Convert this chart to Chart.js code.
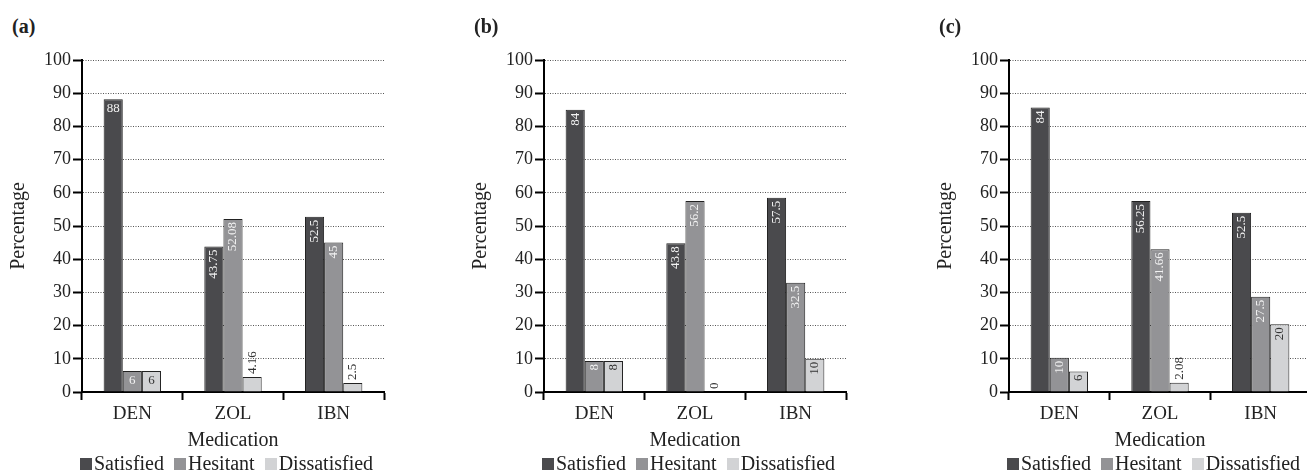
<!DOCTYPE html>
<html>
<head>
<meta charset="utf-8">
<script src="https://cdn.jsdelivr.net/npm/chart.js@4.4.1/dist/chart.umd.min.js"></script>
<style>
    html, body { margin: 0; padding: 0; background: #fff; }
    body { width: 1307px; height: 474px; overflow: hidden; position: relative; font-family: "Liberation Serif", serif; color: #222; }
    .panel { position: absolute; top: 0; width: 463px; height: 474px; }
    .panel canvas { position: absolute; left: 0; top: 0; }
    .tag { position: absolute; left: 12px; top: 14px; font-weight: bold; font-size: 20px; line-height: 24px; }
    .legend { position: absolute; left: 80px; top: 451px; font-size: 20px; line-height: 24px; white-space: nowrap; }
    .legend span.sw { display: inline-block; width: 12px; height: 12px; margin-right: 2px; }
    .legend span.item { margin-right: 10px; }
</style>
</head>
<body>
<div class="panel" id="pa" style="left:0px"><div class="tag">(a)</div><canvas id="chartA" width="463" height="474"></canvas></div>
<div class="panel" id="pb" style="left:462px"><div class="tag">(b)</div><canvas id="chartB" width="463" height="474"></canvas></div>
<div class="panel" id="pc" style="left:927px"><div class="tag">(c)</div><canvas id="chartC" width="463" height="474"></canvas></div>

<script>
// Dane
const categories = ['DEN', 'ZOL', 'IBN'];
const seriesNames = ['Satisfied', 'Hesitant', 'Dissatisfied'];
const seriesColors = ['#4a4a4d', '#939396', '#d2d3d5'];

// panel (a) - wysokości słupków i podpisy
const satisfiedA = [88.2, 43.8, 52.8];
const hesitantA = [6.3, 52.1, 45.0];
const dissatisfiedA = [6.3, 4.5, 2.7];
const satisfiedLabelsA = ['88', '43.75', '52.5'];
const hesitantLabelsA = ['6', '52.08', '45'];
const dissatisfiedLabelsA = ['6', '4.16', '2.5'];

// panel (b)
const satisfiedB = [85.0, 44.8, 58.5];
const hesitantB = [9.3, 57.5, 32.9];
const dissatisfiedB = [9.3, 0, 10.0];
const satisfiedLabelsB = ['84', '43.8', '57.5'];
const hesitantLabelsB = ['8', '56.2', '32.5'];
const dissatisfiedLabelsB = ['8', '0', '10'];

// panel (c)
const satisfiedC = [85.7, 57.5, 54.0];
const hesitantC = [10.3, 43.0, 28.7];
const dissatisfiedC = [6.2, 2.8, 20.4];
const satisfiedLabelsC = ['84', '56.25', '52.5'];
const hesitantLabelsC = ['10', '41.66', '27.5'];
const dissatisfiedLabelsC = ['6', '2.08', '20'];

Chart.defaults.font.family = '"Liberation Serif", "Times New Roman", serif';
Chart.defaults.color = '#222';

// Podpisy wartości na słupkach
const barLabels = {
    id: 'barLabels',
    afterDatasetsDraw(chart, args, opts) {
        const ctx = chart.ctx;
        ctx.save();
        ctx.font = '13px "Liberation Serif"';
        chart.data.datasets.forEach((ds, di) => {
            const meta = chart.getDatasetMeta(di);
            meta.data.forEach((bar, i) => {
                const text = ds.valueLabels[i];
                const h = bar.base - bar.y;
                const w = ctx.measureText(text).width;
                const flat = (opts.flat || []).includes(chart.data.labels[i]);
                const inside = flat ? h >= 18 : h >= w + 6;
                ctx.fillStyle = (inside && di < 2) ? '#f2f2f2' : '#333';
                if (flat) {
                    ctx.textAlign = 'center';
                    ctx.textBaseline = 'top';
                    ctx.fillText(text, bar.x, inside ? bar.y + 3 : bar.y - 15);
                } else {
                    ctx.save();
                    ctx.translate(bar.x, inside ? bar.y + 3 : bar.y - 3);
                    ctx.rotate(-Math.PI / 2);
                    ctx.textAlign = inside ? 'right' : 'left';
                    ctx.textBaseline = 'middle';
                    ctx.fillText(text, 0, 0);
                    ctx.restore();
                }
            });
        });
        ctx.restore();
    }
};

function makeChart(id, values, labels, flat) {
    const ctx = document.getElementById(id).getContext('2d');
    return new Chart(ctx, {
        type: 'bar',
        data: {
            labels: categories,
            datasets: seriesNames.map((name, k) => ({
                label: name,
                data: values[k],
                valueLabels: labels[k],
                backgroundColor: seriesColors[k],
                borderColor: '#222',
                borderWidth: 1,
                categoryPercentage: 0.57,
                barPercentage: 1.0
            }))
        },
        options: {
            responsive: false,
            animation: false,
            layout: { padding: { top: 60, right: 79, bottom: 21, left: 0 } },
            plugins: {
                legend: { display: false },
                tooltip: { enabled: false },
                barLabels: { flat: flat }
            },
            scales: {
                x: {
                    grid: { display: true, offset: true, drawOnChartArea: false, drawTicks: true, tickLength: 8, tickColor: '#000', tickWidth: 2 },
                    border: { color: '#000', width: 2 },
                    ticks: { font: { size: 19 }, color: '#222', padding: 3 },
                    title: { display: true, text: 'Medication', font: { size: 20 }, color: '#222', padding: { top: 0, bottom: 0 } },
                    afterFit: s => { s.height = 61; }
                },
                y: {
                    min: 0,
                    max: 100,
                    ticks: { stepSize: 10, font: { size: 18 }, color: '#222', padding: 2 },
                    grid: { color: '#555', lineWidth: 1, drawTicks: true, tickLength: 9, tickColor: '#000', tickWidth: 2 },
                    border: { color: '#000', width: 2, dash: [1, 1.5] },
                    title: { display: true, text: 'Percentage', font: { size: 20 }, color: '#222', padding: { top: 7, bottom: 0 } },
                    afterFit: s => { s.width = 82; }
                }
            }
        },
        plugins: [barLabels]
    });
}

function makeLegend(panelId) {
    const div = document.createElement('div');
    div.className = 'legend';
    div.innerHTML = seriesNames.map((n, k) =>
        '<span class="item"><span class="sw" style="background:' + seriesColors[k] + '"></span>' + n + '</span>'
    ).join('');
    document.getElementById(panelId).appendChild(div);
}

makeChart('chartA', [satisfiedA, hesitantA, dissatisfiedA], [satisfiedLabelsA, hesitantLabelsA, dissatisfiedLabelsA], ['DEN']);
makeChart('chartB', [satisfiedB, hesitantB, dissatisfiedB], [satisfiedLabelsB, hesitantLabelsB, dissatisfiedLabelsB], []);
makeChart('chartC', [satisfiedC, hesitantC, dissatisfiedC], [satisfiedLabelsC, hesitantLabelsC, dissatisfiedLabelsC], []);
['pa', 'pb', 'pc'].forEach(makeLegend);
</script>
</body>
</html>
